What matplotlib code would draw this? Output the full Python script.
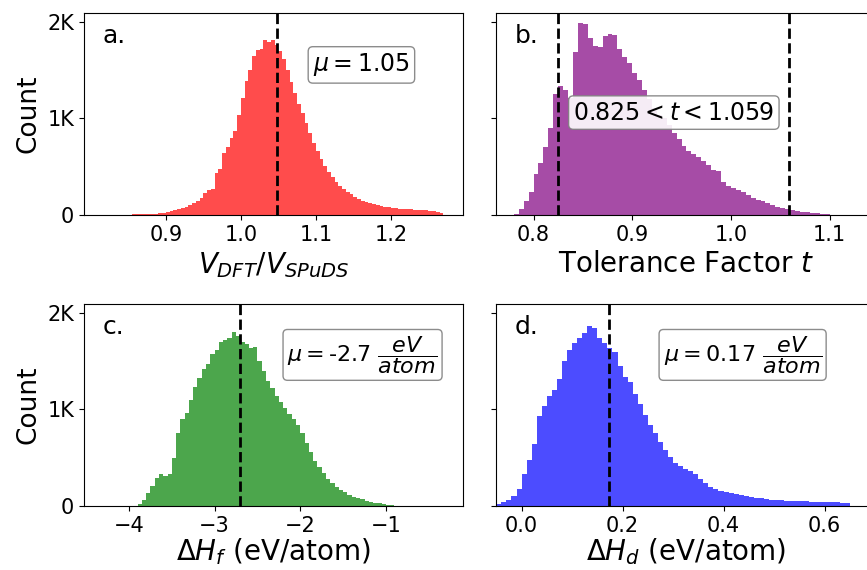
import matplotlib
matplotlib.use('Agg')
import matplotlib.pyplot as plt
import numpy as np

# bin counts (first bin start, bin width, counts)
vol_start, vol_width = 0.850, 0.005
vol_counts = [5, 6, 7, 8, 9, 10, 12, 14, 18, 24,
              30, 38, 50, 62, 75, 88, 105, 125, 150, 175,
              225, 255, 265, 430, 480, 640, 700, 800, 870, 1040,
              1210, 1390, 1500, 1650, 1710, 1720, 1810, 1790, 1815, 1760,
              1700, 1620, 1500, 1380, 1260, 1150, 1060, 950, 850, 750,
              660, 580, 510, 450, 390, 340, 305, 270, 240, 215,
              190, 170, 150, 135, 122, 112, 102, 94, 88, 80,
              74, 70, 66, 62, 60, 58, 55, 52, 50, 48,
              45, 40, 35, 25]
vol_mean = 1.048

tol_start, tol_width = 0.780, 0.005
tol_counts = [15, 60, 140, 240, 420, 540, 700, 900, 1250, 1340,
              1290, 1210, 1690, 1990, 1980, 1830, 1750, 1740, 1850, 1880,
              1860, 1720, 1640, 1570, 1470, 1400, 1300, 1200, 1110, 1040,
              1000, 930, 850, 790, 710, 660, 630, 600, 560, 520,
              470, 460, 340, 300, 280, 260, 240, 210, 180, 160,
              150, 125, 100, 85, 70, 60, 48, 42, 36, 30,
              24, 18, 12, 8, 5, 3, 2, 1, 1]
tol_low, tol_high = 0.825, 1.059

hf_start, hf_width = -3.90, 0.05
hf_counts = [20, 60, 130, 210, 290, 330, 310, 330, 500, 760,
             900, 960, 1100, 1230, 1330, 1420, 1470, 1580, 1620, 1700,
             1720, 1740, 1800, 1760, 1700, 1680, 1640, 1650, 1500, 1400,
             1300, 1220, 1140, 1080, 1020, 950, 900, 840, 760, 650,
             560, 470, 400, 340, 280, 240, 200, 170, 140, 115,
             95, 80, 68, 56, 45, 36, 28, 20, 14, 8]
hf_mean = -2.70

hd_start, hd_width = -0.05, 0.01
hd_counts = [25, 42, 60, 100, 180, 330, 480, 640, 930, 1040,
             1140, 1200, 1320, 1500, 1620, 1690, 1740, 1790, 1870, 1840,
             1740, 1690, 1640, 1600, 1450, 1340, 1280, 1160, 1060, 940,
             840, 760, 660, 580, 510, 450, 410, 380, 360, 330,
             280, 240, 200, 180, 160, 145, 135, 125, 115, 105,
             95, 88, 80, 72, 66, 60, 57, 55, 52, 50,
             50, 48, 46, 44, 42, 40, 40, 38, 36, 34]
hd_mean = 0.173

W, H = 867, 570
fig = plt.figure(figsize=(W / 100, H / 100), dpi=100)


def make_ax(x0, y0, x1, y1):
    return fig.add_axes([x0 / W, 1 - y1 / H, (x1 - x0) / W, (y1 - y0) / H])


def draw_hist(ax, start, width, counts, color):
    edges = start + width * np.arange(len(counts) + 1)
    ax.hist(edges[:-1], bins=edges, weights=counts, color=color, alpha=0.7)
    ax.set_ylim(0, 2093)
    ax.set_yticks([0, 1000, 2000])
    ax.tick_params(labelsize=15)


box = dict(boxstyle='round,pad=0.2', facecolor='white', edgecolor='gray', alpha=0.9)
LBL = 20

ax_a = make_ax(84, 13, 463, 215)
draw_hist(ax_a, vol_start, vol_width, vol_counts, 'red')
ax_a.axvline(vol_mean, color='k', linestyle='--', lw=2)
ax_a.set_xlim(0.791, 1.296)
ax_a.set_xticks([0.9, 1.0, 1.1, 1.2])
ax_a.set_yticklabels(['0', '1K', '2K'])
ax_a.set_ylabel('Count', fontsize=19)
ax_a.set_xlabel(r'$V_{DFT}/V_{SPuDS}$', fontsize=LBL)
ax_a.text(0.05, 0.85, 'a.', transform=ax_a.transAxes, fontsize=18)
ax_a.text(0.732, 0.743, r'$\mu = 1.05$', transform=ax_a.transAxes, fontsize=17,
          ha='center', va='center', bbox=box)

ax_b = make_ax(496, 13, 876, 215)
draw_hist(ax_b, tol_start, tol_width, tol_counts, 'purple')
ax_b.axvline(tol_low, color='k', linestyle='--', lw=2)
ax_b.axvline(tol_high, color='k', linestyle='--', lw=2)
ax_b.set_xlim(0.762, 1.147)
ax_b.set_xticks([0.8, 0.9, 1.0, 1.1])
ax_b.set_yticklabels([])
ax_b.set_xlabel(r'Tolerance Factor $t$', fontsize=LBL)
ax_b.text(0.05, 0.85, 'b.', transform=ax_b.transAxes, fontsize=18)
ax_b.text(0.468, 0.507, r'$0.825 < t < 1.059$', transform=ax_b.transAxes, fontsize=17,
          ha='center', va='center', bbox=box)

ax_c = make_ax(84, 304, 463, 506)
draw_hist(ax_c, hf_start, hf_width, hf_counts, 'green')
ax_c.axvline(hf_mean, color='k', linestyle='--', lw=2)
ax_c.set_xlim(-4.525, -0.10)
ax_c.set_xticks([-4, -3, -2, -1])
ax_c.set_yticklabels(['0', '1K', '2K'])
ax_c.set_ylabel('Count', fontsize=19)
ax_c.set_xlabel(r'$\Delta H_f$ (eV/atom)', fontsize=LBL, labelpad=0.5)
ax_c.text(0.05, 0.85, 'c.', transform=ax_c.transAxes, fontsize=18)
ax_c.text(0.735, 0.748, r'$\mu = $-2.7 $\dfrac{eV}{atom}$', transform=ax_c.transAxes,
          fontsize=16, ha='center', va='center', bbox=box)

ax_d = make_ax(496, 304, 876, 506)
draw_hist(ax_d, hd_start, hd_width, hd_counts, 'blue')
ax_d.axvline(hd_mean, color='k', linestyle='--', lw=2)
ax_d.set_xlim(-0.0507, 0.702)
ax_d.set_xticks([0.0, 0.2, 0.4, 0.6])
ax_d.set_yticklabels([])
ax_d.set_xlabel(r'$\Delta H_d$ (eV/atom)', fontsize=LBL, labelpad=0.5)
ax_d.text(0.05, 0.85, 'd.', transform=ax_d.transAxes, fontsize=18)
ax_d.text(0.649, 0.748, r'$\mu = 0.17\ \dfrac{eV}{atom}$', transform=ax_d.transAxes,
          fontsize=16, ha='center', va='center', bbox=box)

fig.savefig('out.png', dpi=100)
